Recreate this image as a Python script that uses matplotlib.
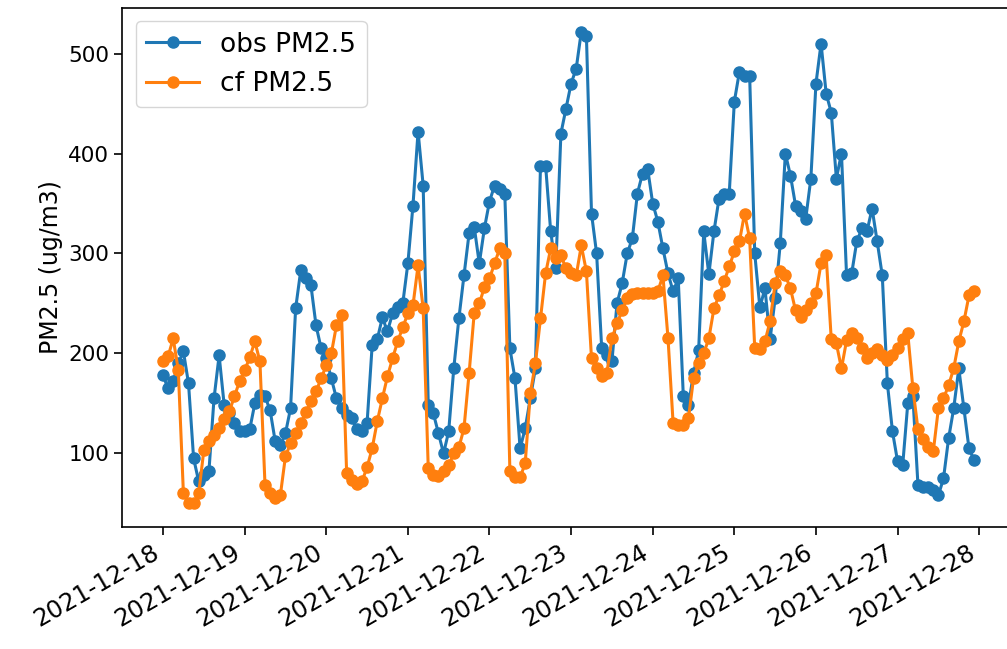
import numpy as np
import pandas as pd
import matplotlib
matplotlib.use('Agg')
import matplotlib.pyplot as plt
import matplotlib.dates as mdates

# 90-minute samples, 2021-12-18 00:00 .. 2021-12-27 22:30
times = pd.date_range('2021-12-18', periods=160, freq='90min')

obs_pm25 = [178, 165, 172, 190, 202, 170, 95, 72, 78, 82, 155, 198, 148, 140, 130, 122,
            122, 124, 150, 158, 157, 143, 112, 108, 120, 145, 245, 283, 275, 268, 228, 205,
            195, 175, 155, 145, 138, 135, 124, 122, 130, 208, 214, 236, 222, 240, 246, 250,
            290, 348, 422, 368, 148, 140, 120, 100, 122, 185, 235, 278, 320, 327, 290, 325,
            352, 368, 365, 360, 205, 175, 105, 125, 155, 185, 388, 388, 322, 285, 420, 445,
            470, 485, 522, 518, 340, 300, 205, 198, 192, 250, 270, 300, 315, 360, 380, 385,
            350, 332, 305, 280, 262, 275, 157, 148, 180, 203, 322, 279, 322, 355, 360, 360,
            452, 482, 478, 478, 300, 246, 265, 214, 255, 310, 400, 378, 348, 343, 335, 375,
            470, 510, 460, 441, 375, 400, 278, 280, 312, 325, 322, 345, 312, 278, 170, 122,
            92, 88, 150, 157, 68, 66, 66, 63, 58, 75, 115, 145, 185, 145, 105, 93]

cf_pm25 = [192, 197, 215, 183, 60, 50, 50, 60, 103, 112, 118, 125, 134, 142, 157, 172,
           183, 196, 212, 192, 68, 60, 55, 58, 97, 110, 120, 130, 141, 152, 162, 175,
           188, 200, 228, 238, 80, 73, 69, 72, 86, 105, 132, 155, 177, 195, 212, 226,
           240, 248, 288, 245, 85, 78, 77, 82, 88, 100, 106, 125, 180, 240, 250, 266,
           275, 290, 305, 300, 82, 76, 76, 90, 160, 190, 235, 280, 305, 295, 298, 285,
           280, 278, 308, 282, 195, 185, 177, 180, 215, 230, 243, 255, 259, 260, 260, 260,
           260, 262, 278, 215, 130, 128, 128, 135, 175, 190, 200, 215, 245, 258, 272, 287,
           302, 312, 340, 315, 205, 204, 212, 232, 270, 282, 278, 265, 243, 236, 243, 250,
           260, 290, 298, 214, 210, 185, 213, 220, 215, 205, 195, 200, 204, 198, 193, 198,
           205, 214, 220, 165, 124, 114, 106, 102, 145, 155, 168, 185, 212, 232, 258, 262]

plt.rcParams['font.size'] = 15.5

fig = plt.figure(figsize=(10.07, 6.49), dpi=100)
ax = fig.add_axes([0.1216, 0.188, 0.886, 0.7997])

ax.plot(times, obs_pm25, '-o', color='#1f77b4', linewidth=2.2, markersize=8, label='obs PM2.5')
ax.plot(times, cf_pm25, '-o', color='#ff7f0e', linewidth=2.2, markersize=8, label='cf PM2.5')

ax.set_ylabel('PM2.5 (ug/m3)', fontsize=17)
ax.set_yticks([100, 200, 300, 400, 500])
ax.xaxis.set_major_locator(mdates.DayLocator())
ax.xaxis.set_major_formatter(mdates.DateFormatter('%Y-%m-%d'))
ax.tick_params(axis='x', labelsize=17.5)
for lab in ax.get_xticklabels():
    lab.set_rotation(30)
    lab.set_ha('right')
ax.tick_params(length=6, width=1.2)
for s in ax.spines.values():
    s.set_linewidth(1.2)

ax.legend(loc='upper left', fontsize=19)

fig.savefig('out.png', dpi=100)
